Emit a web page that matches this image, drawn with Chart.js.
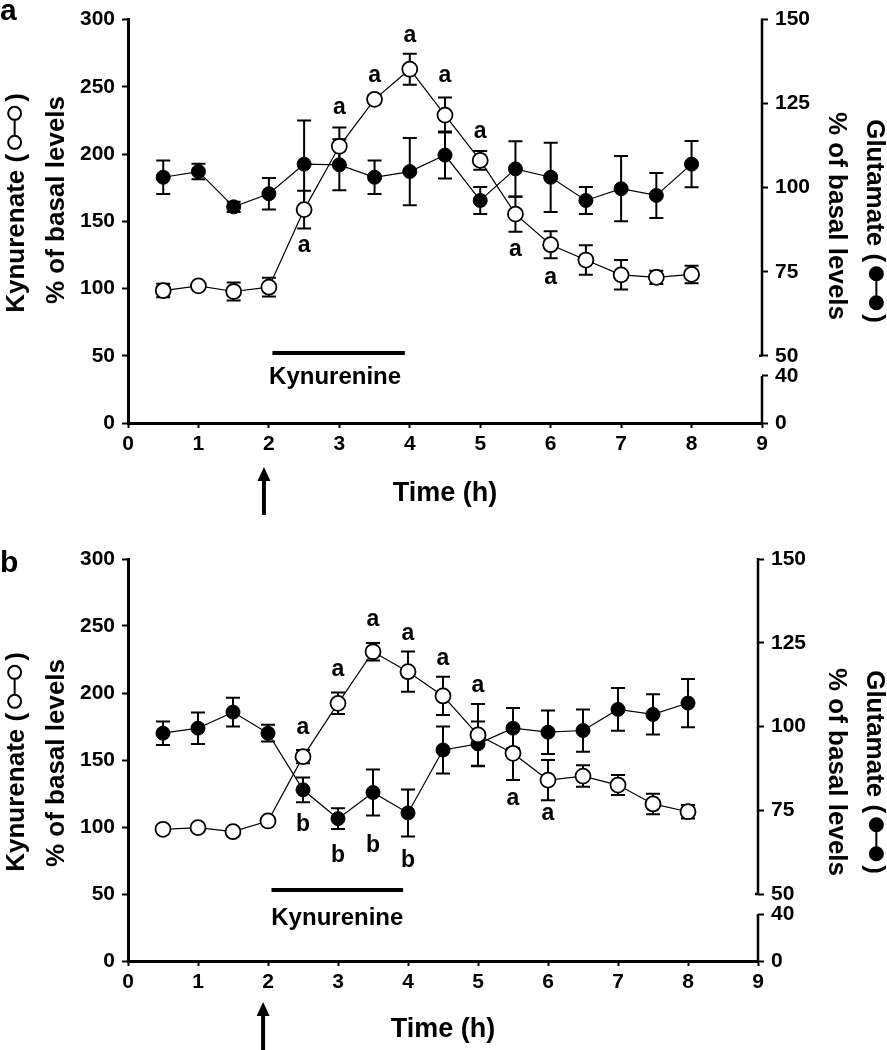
<!DOCTYPE html>
<html>
<head>
<meta charset="utf-8">
<script src="https://cdn.jsdelivr.net/npm/chart.js@4.4.1/dist/chart.umd.min.js"></script>
<style>
  html, body { margin: 0; padding: 0; background: #fff; }
  .panel { width: 887px; height: 525px; }
  canvas { display: block; }
</style>
</head>
<body>
<div class="panel"><canvas id="chartA" width="887" height="525"></canvas></div>
<div class="panel"><canvas id="chartB" width="887" height="525"></canvas></div>
<script>
// sampling times (h)
const timeH = [0.5, 1, 1.5, 2, 2.5, 3, 3.5, 4, 4.5, 5, 5.5, 6, 6.5, 7, 7.5, 8];

// panel a
const kynA    = [98.5, 102, 97.8, 101, 158.7, 205.8, 240.7, 263.1, 229, 195.3, 155.3, 132.6, 121.2, 110.2, 108.3, 110.5];
const kynAErr = [5, 2, 6.7, 7, 14, 14, 3, 11.5, 13, 7, 13, 10, 11, 11, 5, 6.5];
const gluA    = [103.1, 104.8, 94.3, 98.2, 107, 106.8, 103.1, 104.8, 109.7, 96.2, 105.6, 103.1, 96.2, 99.7, 97.7, 107];
const gluAErr = [5, 2.3, 1.5, 4.7, 13, 7.6, 5, 10, 7, 4, 8.2, 10.3, 4, 9.7, 6.7, 6.9];
const sigA = [['a', 2.5, 131.7], ['a', 3, 234.8], ['a', 3.5, 258.2], ['a', 4, 288.2],
              ['a', 4.5, 258.2], ['a', 5, 216.7], ['a', 5.5, 129], ['a', 6, 108.3]];

// panel b
const kynB    = [98.3, 99.5, 96.5, 104.5, 152.5, 192.3, 230.8, 215.9, 197.8, 168.7, 155, 135, 138, 131.3, 117.2, 111.4];
const kynBErr = [2, 2, 2, 2, 5, 8, 6.5, 15, 14.3, 23, 20, 15, 8, 7.5, 7.7, 5];
const gluB    = [98, 99.5, 104.3, 98, 81.1, 72.5, 80.3, 74.2, 93, 94.8, 99.5, 98.3, 98.8, 105.1, 103.6, 107];
const gluBErr = [3.5, 4.7, 4.3, 2.5, 3.7, 3.1, 6.9, 7, 7, 6.7, 6, 6.5, 6.3, 6.4, 6, 7.2];
const sigB = [['a', 2.5, 174.4], ['a', 3, 217.2], ['a', 3.5, 254.5], ['a', 4, 244.5],
              ['a', 4.5, 225.9], ['a', 5, 205.5], ['a', 5.5, 121.4], ['a', 6, 110.2],
              ['b', 2.5, 104], ['b', 3, 80.4], ['b', 3.5, 87.8], ['b', 4, 76.6]];

// axis ticks
const leftTicks = [0, 50, 100, 150, 200, 250, 300];
const rightTicks = [0, 40, 50, 75, 100, 125, 150];

// right axis is broken between 40 and 50: 0..40 squeezed under the 50..150 part
const Y2_MIN = 30, Y2_LOW40 = 44;
const toY2 = v => v >= 50 ? v : Y2_MIN + v * (Y2_LOW40 - Y2_MIN) / 40;

const FONT = '"Liberation Sans", Arial, Helvetica, sans-serif';
const tickFont = { family: FONT, size: 21, weight: 'bold' };

const errorBars = {
  id: 'errorBars',
  beforeDatasetsDraw(chart) {
    const { ctx, scales } = chart;
    ctx.save();
    ctx.strokeStyle = '#000'; ctx.lineWidth = 2;
    chart.data.datasets.forEach(ds => {
      const sc = scales[ds.yAxisID];
      ds.data.forEach((pt, i) => {
        const e = ds.errors[i];
        const x = scales.x.getPixelForValue(pt.x);
        const yt = sc.getPixelForValue(pt.y + e), yb = sc.getPixelForValue(pt.y - e);
        ctx.beginPath();
        ctx.moveTo(x, yt); ctx.lineTo(x, yb);
        ctx.moveTo(x - 7, yt); ctx.lineTo(x + 7, yt);
        ctx.moveTo(x - 7, yb); ctx.lineTo(x + 7, yb);
        ctx.stroke();
      });
    });
    ctx.restore();
  }
};

// rotated axis title with the little marker glyph inside the brackets
function sideTitle(ctx, text, cy, baseX, angle, filled) {
  const F = 26;
  ctx.save();
  ctx.font = 'bold ' + F + 'px ' + FONT;
  ctx.fillStyle = '#000'; ctx.strokeStyle = '#000';
  ctx.textBaseline = 'alphabetic'; ctx.textAlign = 'left';
  ctx.translate(baseX, cy);
  ctx.rotate(angle);
  const w1 = ctx.measureText(text + ' (').width;
  const w2 = ctx.measureText(')').width;
  const r = 6.5, gap = 5, seg = 16;
  const symW = 4 * r + seg;
  const total = w1 + gap + symW + gap + w2;
  let x = -total / 2;
  ctx.fillText(text + ' (', x, 0);
  x += w1 + gap;
  const my = -0.36 * F;
  ctx.lineWidth = 2;
  ctx.beginPath(); ctx.moveTo(x + 2 * r, my); ctx.lineTo(x + 2 * r + seg, my); ctx.stroke();
  [x + r, x + 3 * r + seg].forEach(c => {
    ctx.beginPath(); ctx.arc(c, my, r, 0, Math.PI * 2);
    ctx.fillStyle = filled ? '#000' : '#fff'; ctx.fill(); ctx.stroke();
  });
  ctx.fillStyle = '#000';
  ctx.fillText(')', x + symW + gap, 0);
  ctx.restore();
}

function plainSide(ctx, text, cy, baseX, angle) {
  ctx.save();
  ctx.font = 'bold 26px ' + FONT;
  ctx.fillStyle = '#000';
  ctx.textBaseline = 'alphabetic'; ctx.textAlign = 'center';
  ctx.translate(baseX, cy); ctx.rotate(angle);
  ctx.fillText(text, 0, 0);
  ctx.restore();
}

function extrasFor(p) {
  return {
    id: 'extras',
    afterDraw(chart) {
      const { ctx, scales, chartArea } = chart;
      const { x, y, y2 } = scales;
      ctx.save();
      // broken right axis line
      ctx.strokeStyle = '#000'; ctx.lineWidth = 2.5;
      const rx = chartArea.right;
      ctx.beginPath();
      ctx.moveTo(rx, y2.getPixelForValue(150) - 1); ctx.lineTo(rx, y2.getPixelForValue(50));
      ctx.moveTo(rx - 3, y2.getPixelForValue(50)); ctx.lineTo(rx, y2.getPixelForValue(50));
      ctx.moveTo(rx, y2.getPixelForValue(toY2(40))); ctx.lineTo(rx, chartArea.bottom);
      ctx.stroke();

      // kynurenine infusion bar
      ctx.lineWidth = 4;
      ctx.beginPath();
      ctx.moveTo(x.getPixelForValue(p.barFrom), y.getPixelForValue(p.barY));
      ctx.lineTo(x.getPixelForValue(p.barTo), y.getPixelForValue(p.barY));
      ctx.stroke();
      ctx.fillStyle = '#000';
      ctx.font = 'bold 24px ' + FONT;
      ctx.textAlign = 'center'; ctx.textBaseline = 'middle';
      ctx.fillText('Kynurenine', x.getPixelForValue(p.kynLabel[0]), y.getPixelForValue(p.kynLabel[1]));

      // arrow at start of infusion
      const ax = x.getPixelForValue(p.arrowAt);
      ctx.lineWidth = 4;
      ctx.beginPath(); ctx.moveTo(ax, p.arrowEnd); ctx.lineTo(ax, p.arrowTip + 12); ctx.stroke();
      ctx.beginPath();
      ctx.moveTo(ax, p.arrowTip); ctx.lineTo(ax - 6.5, p.arrowTip + 14); ctx.lineTo(ax + 6.5, p.arrowTip + 14);
      ctx.closePath(); ctx.fill();

      // significance letters
      ctx.font = 'bold 23px ' + FONT;
      ctx.textAlign = 'center'; ctx.textBaseline = 'alphabetic';
      p.marks.forEach(([t, mx, my]) => {
        const m = ctx.measureText(t);
        const h = m.actualBoundingBoxAscent - m.actualBoundingBoxDescent;
        ctx.fillText(t, x.getPixelForValue(mx), y.getPixelForValue(my) + h / 2);
      });

      // panel letter
      ctx.font = 'bold 30px ' + FONT;
      ctx.textAlign = 'left';
      ctx.fillText(p.letter, 0, p.letterBase);
      ctx.restore();

      // axis titles
      sideTitle(ctx, 'Kynurenate', p.leftTitleY, 24, -Math.PI / 2, false);
      plainSide(ctx, '% of basal levels', p.leftInnerY, 64, -Math.PI / 2);
      sideTitle(ctx, 'Glutamate', p.rightTitleY, 867, Math.PI / 2, true);
      plainSide(ctx, '% of basal levels', p.rightInnerY, 829, Math.PI / 2);
    }
  };
}

function makePanel(id, p) {
  const tickGrid = { drawOnChartArea: false, drawTicks: true, tickLength: 6, tickWidth: 2, tickColor: '#000' };
  new Chart(document.getElementById(id), {
    type: 'line',
    data: {
      datasets: [
        { label: 'Kynurenate', yAxisID: 'y', order: 0, errors: p.kynErr,
          data: timeH.map((t, i) => ({ x: t, y: p.kyn[i] })),
          borderColor: '#000', borderWidth: 1.2,
          pointRadius: 7.5, pointBorderWidth: 1.8, pointBorderColor: '#000', pointBackgroundColor: '#fff' },
        { label: 'Glutamate', yAxisID: 'y2', order: 1, errors: p.gluErr,
          data: timeH.map((t, i) => ({ x: t, y: p.glu[i] })),
          borderColor: '#000', borderWidth: 1.2,
          pointRadius: 7, pointBorderWidth: 1, pointBorderColor: '#000', pointBackgroundColor: '#000' }
      ]
    },
    options: {
      responsive: false,
      animation: false,
      devicePixelRatio: 1,
      layout: { padding: { top: p.padTop, left: 0, right: 0, bottom: 0 } },
      plugins: { legend: { display: false }, tooltip: { enabled: false } },
      scales: {
        x: {
          type: 'linear', min: 0, max: 9,
          ticks: { stepSize: 1, color: '#000', font: tickFont, padding: 4, maxRotation: 0, autoSkip: false },
          grid: Object.assign({}, tickGrid, { tickLength: 5 }),
          border: { display: true, color: '#000', width: 3 },
          title: { display: true, text: 'Time (h)', color: '#000',
                   font: { family: FONT, size: 27, weight: 'bold' }, padding: { top: 0, bottom: p.timePad } },
          afterFit: s => { s.height = p.xH; }
        },
        y: {
          type: 'linear', position: 'left', min: 0, max: 300,
          afterBuildTicks: s => { s.ticks = leftTicks.map(v => ({ value: v })); },
          ticks: { color: '#000', font: tickFont, padding: 7, autoSkip: false },
          grid: tickGrid,
          border: { display: true, color: '#000', width: 3 },
          afterFit: s => { s.width = 128; }
        },
        y2: {
          type: 'linear', position: 'right', min: Y2_MIN, max: 150,
          afterBuildTicks: s => { s.ticks = rightTicks.map(v => ({ value: toY2(v) })); },
          ticks: { color: '#000', font: tickFont, padding: 7, autoSkip: false,
                   callback: (v, i) => String(rightTicks[i]) },
          grid: tickGrid,
          border: { display: false },
          afterFit: s => { s.width = p.y2W; }
        }
      }
    },
    plugins: [errorBars, extrasFor(p)]
  });
}

makePanel('chartA', {
  kyn: kynA, kynErr: kynAErr, glu: gluA, gluErr: gluAErr, marks: sigA,
  letter: 'a', letterBase: 20, padTop: 13, xH: 102, y2W: 125, timePad: 15,
  barFrom: 2.05, barTo: 3.93, barY: 52, kynLabel: [2.94, 33.6],
  arrowAt: 1.93, arrowTip: 467, arrowEnd: 515,
  leftTitleY: 203, leftInnerY: 200, rightTitleY: 221, rightInnerY: 216
});

makePanel('chartB', {
  kyn: kynB, kynErr: kynBErr, glu: gluB, gluErr: gluBErr, marks: sigB,
  letter: 'b', letterBase: 47, padTop: 34, xH: 89, y2W: 129, timePad: 4,
  barFrom: 2.05, barTo: 3.93, barY: 53, kynLabel: [2.99, 32],
  arrowAt: 1.93, arrowTip: 477, arrowEnd: 530,
  leftTitleY: 237, leftInnerY: 238, rightTitleY: 247, rightInnerY: 247
});
</script>
</body>
</html>
